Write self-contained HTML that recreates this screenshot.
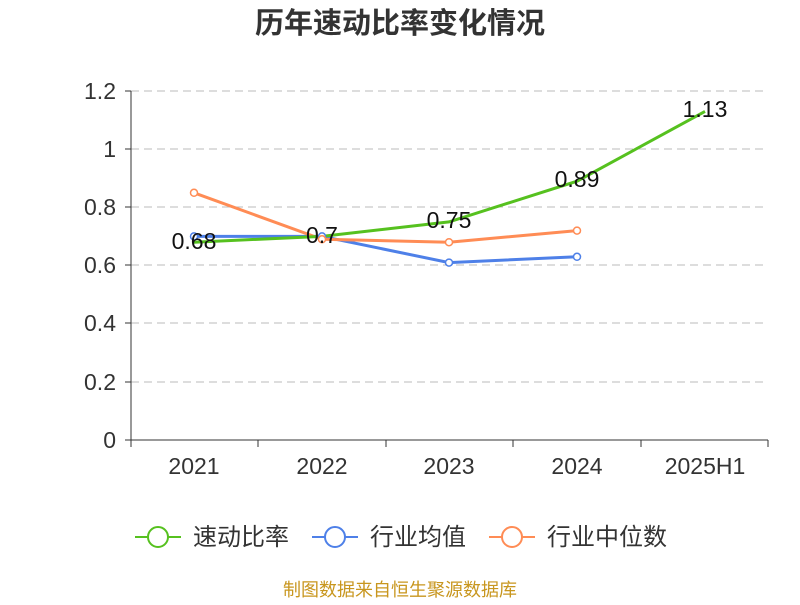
<!DOCTYPE html>
<html><head><meta charset="utf-8"><style>body{margin:0;background:#fff}</style></head><body>
<svg width="800" height="600" xmlns="http://www.w3.org/2000/svg" font-family="Liberation Sans, Noto Sans CJK SC, sans-serif">
<text x="400" y="33" text-anchor="middle" font-size="29" font-weight="bold" fill="#333">历年速动比率变化情况</text>
<g stroke="#bbb" stroke-dasharray="8,5" stroke-width="1">
<line x1="131" x2="768" y1="91" y2="91"/><line x1="131" x2="768" y1="149" y2="149"/><line x1="131" x2="768" y1="207" y2="207"/><line x1="131" x2="768" y1="265" y2="265"/><line x1="131" x2="768" y1="323" y2="323"/><line x1="131" x2="768" y1="382" y2="382"/></g>
<g stroke="#333" stroke-width="1">
<line x1="131" x2="131" y1="91" y2="440"/><line x1="131" x2="768" y1="440" y2="440"/>
<line x1="125" x2="131" y1="91" y2="91"/><line x1="125" x2="131" y1="149" y2="149"/><line x1="125" x2="131" y1="207" y2="207"/><line x1="125" x2="131" y1="265" y2="265"/><line x1="125" x2="131" y1="323" y2="323"/><line x1="125" x2="131" y1="382" y2="382"/><line x1="125" x2="131" y1="440" y2="440"/>
<line x1="131" x2="131" y1="440" y2="447"/><line x1="258" x2="258" y1="440" y2="447"/><line x1="386" x2="386" y1="440" y2="447"/><line x1="513" x2="513" y1="440" y2="447"/><line x1="641" x2="641" y1="440" y2="447"/><line x1="768" x2="768" y1="440" y2="447"/></g>
<g font-size="23" fill="#333" text-anchor="end">
<text x="116" y="99">1.2</text><text x="116" y="157">1</text><text x="116" y="215">0.8</text><text x="116" y="273">0.6</text><text x="116" y="331">0.4</text><text x="116" y="390">0.2</text><text x="116" y="448">0</text></g>
<g font-size="23" fill="#333" text-anchor="middle">
<text x="194" y="474">2021</text><text x="322" y="474">2022</text><text x="449" y="474">2023</text><text x="577" y="474">2024</text><text x="705" y="474">2025H1</text></g>
<polyline fill="none" stroke="#4e80e8" stroke-width="3" points="194,236.4 322,236.4 449,262.6 577,256.8"/>
<polyline fill="none" stroke="#ff8c55" stroke-width="3" points="194,192.8 322,239.3 449,242.2 577,230.6"/>
<polyline fill="none" stroke="#56c11f" stroke-width="3" points="194,242.2 322,236.4 449,221.9 577,181.2 705,111.4"/>
<g fill="#fff" stroke="#4e80e8" stroke-width="1.5"><circle cx="194" cy="236.4" r="3.5"/><circle cx="322" cy="236.4" r="3.5"/><circle cx="449" cy="262.6" r="3.5"/><circle cx="577" cy="256.8" r="3.5"/></g>
<g fill="#fff" stroke="#ff8c55" stroke-width="1.5"><circle cx="194" cy="192.8" r="3.5"/><circle cx="322" cy="239.3" r="3.5"/><circle cx="449" cy="242.2" r="3.5"/><circle cx="577" cy="230.6" r="3.5"/></g>
<g font-size="23" fill="#111" text-anchor="middle">
<text x="194" y="249">0.68</text><text x="322" y="243">0.7</text><text x="449" y="228">0.75</text><text x="577" y="187">0.89</text><text x="705" y="117">1.13</text></g>
<g stroke-width="2" fill="#fff">
<line x1="135" x2="181" y1="537" y2="537" stroke="#56c11f"/><circle cx="158" cy="537" r="10" stroke="#56c11f"/>
<line x1="312" x2="358" y1="537" y2="537" stroke="#4e80e8"/><circle cx="335" cy="537" r="10" stroke="#4e80e8"/>
<line x1="489" x2="535" y1="537" y2="537" stroke="#ff8c55"/><circle cx="512" cy="537" r="10" stroke="#ff8c55"/></g>
<g font-size="24" fill="#333"><text x="193" y="545">速动比率</text><text x="370" y="545">行业均值</text><text x="547" y="545">行业中位数</text></g>
<text x="400" y="596" text-anchor="middle" font-size="18" fill="#c8961e">制图数据来自恒生聚源数据库</text>
</svg></body></html>
